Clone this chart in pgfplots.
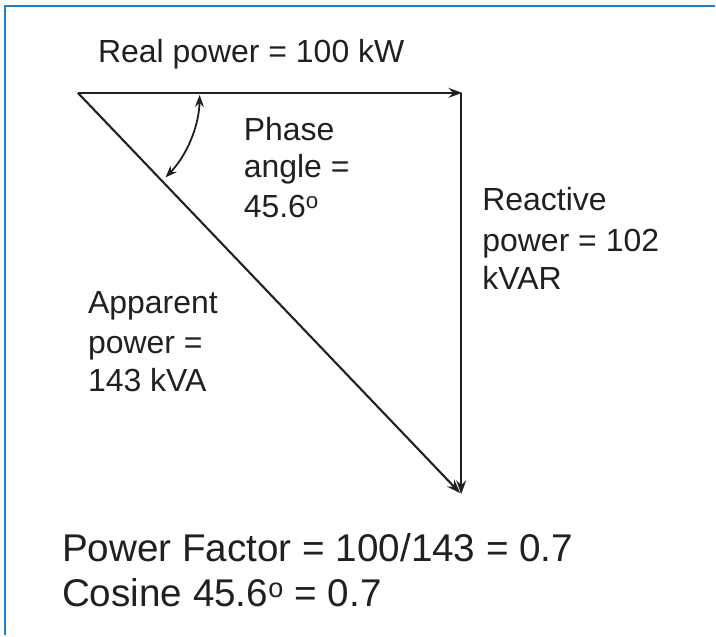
\documentclass[border=0pt]{standalone}
\usepackage{pgfplots}
\pgfplotsset{compat=1.18}
\usepackage{fontspec}
\setmainfont{Liberation Sans}
\usetikzlibrary{arrows.meta}
\definecolor{frameblue}{RGB}{30,128,205}
\definecolor{ink}{RGB}{35,31,32}
\begin{document}
\begin{tikzpicture}
\begin{axis}[
  hide axis, scale only axis,
  width=716pt, height=634pt,
  xmin=0, xmax=716, ymin=0, ymax=634,
  clip=false,
]
% invisible frame to fix the size
\addplot[draw=none] coordinates {(0,0) (716,634)};
% blue frame (top and left only)
\addplot[frameblue, line width=2.4pt] coordinates {(5,-2) (5,628) (716,628)};
% real power (horizontal)
\addplot[ink, line width=2.1pt, -{Stealth[length=14pt,width=10pt,inset=5pt]}] coordinates {(78,541) (463,541)};
% reactive power (vertical)
\addplot[ink, line width=2.1pt, -{Stealth[length=14pt,width=10pt,inset=5pt]}] coordinates {(462,541) (462,139)};
% apparent power (diagonal)
\addplot[ink, line width=2.1pt, -{Stealth[length=14pt,width=10pt,inset=5pt]}] coordinates {(78,541) (461,140)};
% angle arc
\draw[ink, line width=1.8pt, {Stealth[length=12pt,width=9pt,inset=4pt]}-{Stealth[length=12pt,width=9pt,inset=4pt]}]
  (axis cs:{78+122*cos(-1)},{541+122*sin(-1)}) arc[start angle=-1, end angle=-44, radius=122pt];
% labels
\begin{scope}[every node/.style={anchor=base west, inner sep=0pt, text=ink, font=\fontsize{32}{38}\selectfont}]
\node at (axis cs:98,571) {Real power = 100 kW};
\node at (axis cs:244,493) {Phase};
\node at (axis cs:244,456) {angle =};
\node at (axis cs:244,416) {45.6\textsuperscript{o}};
\node at (axis cs:483,423) {Reactive};
\node at (axis cs:483,382) {power = 102};
\node at (axis cs:483,344) {kVAR};
\node at (axis cs:88,320) {Apparent};
\node at (axis cs:88,280) {power =};
\node at (axis cs:88,242) {143 kVA};
\end{scope}
\begin{scope}[every node/.style={anchor=base west, inner sep=0pt, text=ink, font=\fontsize{38.7}{46}\selectfont}]
\node at (axis cs:62,72) {Power Factor = 100/143 = 0.7};
\node at (axis cs:62,26) {Cosine 45.6\textsuperscript{o} = 0.7};
\end{scope}
\end{axis}
\end{tikzpicture}
\end{document}
